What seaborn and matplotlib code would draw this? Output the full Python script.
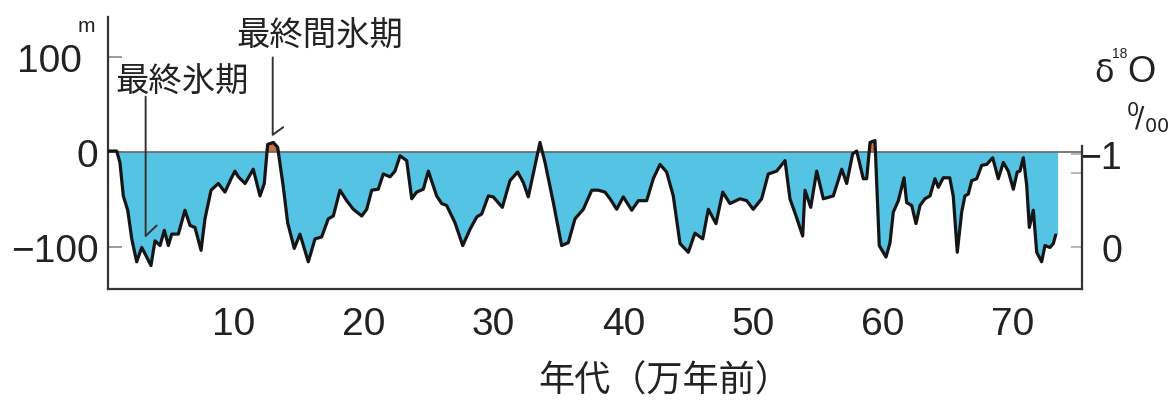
import matplotlib
matplotlib.use("Agg")
import matplotlib.pyplot as plt
import matplotlib.transforms as mtransforms
import numpy as np
import pandas as pd
import seaborn as sns

# age in units of 10,000 years before present
age = [
    0.32, 0.97, 1.22, 1.48, 1.82, 2.13, 2.51, 2.90, 3.28, 3.61,
    3.92, 4.31, 4.64, 4.95, 5.21, 5.72, 6.23, 6.62, 7.00, 7.47,
    7.77, 8.24, 8.80, 9.31, 9.78, 10.08, 10.34, 10.86, 11.49, 12.01,
    12.34, 12.60, 13.04, 13.37, 13.81, 14.14, 14.65, 15.09, 15.73, 16.25,
    16.76, 17.27, 17.66, 18.17, 18.69, 19.20, 19.85, 20.23, 20.62, 21.12,
    21.51, 22.03, 22.41, 22.80, 23.31, 23.70, 24.08, 24.59, 24.98, 25.62,
    26.01, 26.39, 27.03, 27.63, 28.19, 28.71, 29.09, 29.60, 29.98, 30.68,
    31.27, 31.86, 32.30, 32.68, 33.14, 33.58, 33.97, 34.61, 35.25, 35.76,
    36.28, 36.92, 37.57, 38.07, 38.59, 38.98, 39.49, 40.00, 40.65, 41.16,
    41.80, 42.31, 42.83, 43.34, 43.85, 44.37, 45.01, 45.52, 46.12, 46.55,
    47.14, 47.66, 48.22, 48.99, 49.51, 50.01, 50.66, 51.17, 51.82, 52.46,
    52.84, 53.31, 53.82, 54.00, 54.44, 54.90, 55.41, 56.18, 56.83, 57.21,
    57.67, 57.98, 58.49, 58.75, 59.01, 59.39, 59.72, 60.24, 60.55, 60.80,
    61.19, 61.63, 61.83, 62.22, 62.55, 62.86, 63.24, 63.63, 64.01, 64.27,
    64.65, 65.15, 65.42, 65.73, 66.07, 66.32, 66.58, 66.84, 67.23, 67.61,
    68.00, 68.46, 68.89, 69.28, 69.66, 70.05, 70.35, 70.56, 70.82, 71.08,
    71.28, 71.59, 71.85, 72.23, 72.49, 72.87, 73.13, 73.31,
]
# sea level relative to today (m)
sea_level = [
    1, 1, -11, -46, -61, -91, -115, -100, -110, -119,
    -93, -98, -82, -98, -86, -86, -61, -77, -79, -103,
    -70, -40, -33, -42, -28, -20, -26, -33, -18, -46,
    -33, 8, 10, 5, -37, -74, -101, -86, -115, -91,
    -89, -70, -67, -40, -51, -60, -67, -60, -40, -39,
    -23, -26, -20, -4, -9, -49, -42, -39, -20, -46,
    -54, -56, -74, -98, -81, -68, -65, -46, -47, -58,
    -30, -21, -32, -47, -18, 10, -11, -53, -98, -95,
    -70, -60, -40, -40, -42, -49, -60, -47, -61, -51,
    -51, -28, -13, -21, -46, -96, -105, -85, -91, -60,
    -75, -42, -54, -49, -51, -60, -49, -23, -20, -9,
    -49, -67, -88, -40, -58, -20, -49, -46, -18, -33,
    -2, 1, -28, -28, 10, 12, -98, -110, -95, -63,
    -51, -27, -53, -56, -75, -56, -49, -46, -28, -37,
    -27, -27, -46, -105, -63, -46, -44, -30, -28, -14,
    -13, -6, -28, -11, -20, -39, -21, -20, -6, -35,
    -79, -61, -105, -115, -98, -100, -96, -87,
]
fill_end = 73.5

x_ticks = [10, 20, 30, 40, 50, 60, 70]
left_ticks = [-100, 0, 100]
left_labels = ["\u2212100", "0", "100"]
right_ticks = [-1, 0]
right_labels = ["\u22121", "0"]

glacial_text = "最終氷期"
interglacial_text = "最終間氷期"
x_label = "年代（万年前）"

# leader lines of the two notes (age, sea level)
glacial_leader_x = [3.2, 3.2, 4.05]
glacial_leader_y = [58, -88, -77]
interglacial_leader_x = [12.99, 12.99, 13.8]
interglacial_leader_y = [99, 18, 26]

BLUE = "#55c3e3"
WARM = "#c8724a"
CJK = ["Noto Sans CJK JP", "DejaVu Sans"]

sns.set_theme(style="white")
plt.rcParams["font.family"] = ["Liberation Sans Narrow", "Liberation Sans", "DejaVu Sans"]

W, H = 1176, 402
fig = plt.figure(figsize=(W / 100, H / 100), dpi=100)


def fx(px):
    return px / W


def fy(py):
    return 1 - py / H


ax = fig.add_axes([fx(108), fy(290), (1082 - 108) / W, (290 - 18) / H])
ax.set_facecolor("white")

df = pd.DataFrame({"age": age, "sea_level": sea_level})
fa = np.array(age + [fill_end])
fs = np.array(sea_level + [sea_level[-1]])

ax.fill_between(fa, fs, 0, where=fs <= 0, interpolate=True, color=BLUE, lw=0, zorder=1)
ax.fill_between(fa, fs, 0, where=fs >= 0, interpolate=True, color=WARM, lw=0, zorder=1)
ax.axhline(0, color="#666666", lw=1.2, zorder=2)
sns.lineplot(data=df, x="age", y="sea_level", color="#151515", linewidth=2.3,
             estimator=None, sort=False, ax=ax, zorder=3)

ax.plot(glacial_leader_x, glacial_leader_y, color="#333333", lw=1.4, zorder=4)
ax.plot(interglacial_leader_x, interglacial_leader_y, color="#333333", lw=1.4,
        zorder=4, clip_on=False)

ax.set_xlim(0.3, 75.34)
ax.set_ylim(-143.5, 141.4)

for side in ["top", "right"]:
    ax.spines[side].set_visible(False)
for side in ["left", "bottom"]:
    ax.spines[side].set_color("#333333")
    ax.spines[side].set_linewidth(1.6)

ax.set_xticks(x_ticks)
ax.set_xticklabels([str(t) for t in x_ticks])
ax.tick_params(axis="x", direction="in", length=13, width=1.2, color="#aaaaaa",
               pad=12, labelsize=28, labelcolor="#222222")
ax.set_yticks(left_ticks)
ax.set_yticklabels(left_labels)
ax.tick_params(axis="y", direction="in", length=10, width=1.2, color="#888888",
               pad=7, labelsize=28, labelcolor="#222222")
ax.set_xlabel(x_label, fontsize=26, family=CJK, color="#222222", va="center")
ax.xaxis.set_label_coords((665 - 108) / (1082 - 108), (290 - 382) / (290 - 18))
ax.set_ylabel("")

# "100" sits a bit left, with the unit above it
for lbl in ax.get_yticklabels():
    if lbl.get_text() == "100":
        lbl.set_transform(lbl.get_transform() +
                          mtransforms.ScaledTranslation(-0.16, 0, fig.dpi_scale_trans))
fig.text(fx(86), fy(26), "m", fontsize=15, ha="center", va="center", color="#222222")

ax2 = ax.twinx()
ax2.set_ylim(0.45, -2.47)
ax2.set_yticks(right_ticks)
ax2.set_yticklabels(right_labels)
ax2.set_yticks([-0.8], minor=True)
ax2.tick_params(axis="y", which="both", direction="in", length=8, width=1.2,
                color="#aaaaaa", pad=28.8, labelsize=27, labelcolor="#222222")
for lbl in ax2.get_yticklabels():
    lbl.set_horizontalalignment("right")
for side in ["top", "left", "bottom"]:
    ax2.spines[side].set_visible(False)
ax2.spines["right"].set_color("#333333")
ax2.spines["right"].set_linewidth(1.6)
ax2.spines["right"].set_bounds(-1.086, 0.45)
ax2.grid(False)
ax.grid(False)

fig.text(fx(1104), fy(74), "\u03b4", fontsize=23, ha="center", va="center",
         color="#222222", family=["DejaVu Sans"])
fig.text(fx(1120), fy(54), "18", fontsize=10, ha="center", va="center", color="#222222")
fig.text(fx(1141), fy(72), "O", fontsize=26, ha="center", va="center", color="#222222")
fig.text(fx(1148), fy(118), r"$^{0}\!/_{00}$", fontsize=20, ha="center", va="center",
         color="#222222")

fig.text(fx(182), fy(82), glacial_text, fontsize=24, ha="center", va="center",
         family=CJK, color="#222222")
fig.text(fx(320), fy(36), interglacial_text, fontsize=24, ha="center", va="center",
         family=CJK, color="#222222")

fig.savefig("out.png", dpi=100, facecolor="white")
